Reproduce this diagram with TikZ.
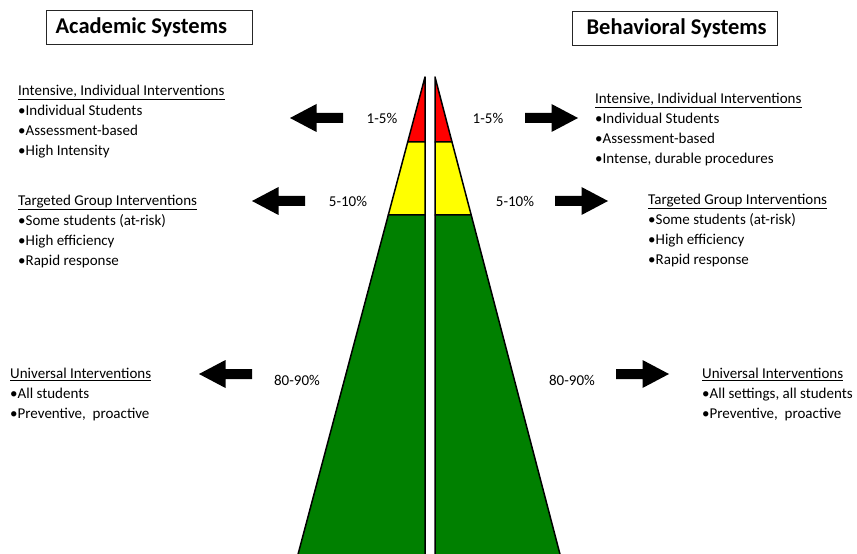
\documentclass[tikz,border=0pt]{standalone}
\usepackage{fontspec}
\setmainfont{Carlito}

\definecolor{tierred}{RGB}{255,0,0}
\definecolor{tieryellow}{RGB}{255,255,0}
\definecolor{tiergreen}{RGB}{0,128,0}

\tikzset{
  tier/.style={draw=black, line width=1.5bp, line join=round},
  titlebox/.style={draw=black!85, line width=1.2bp, anchor=north west, minimum height=34bp,
    inner ysep=0pt, inner xsep=0pt, font=\fontsize{22.5bp}{27bp}\selectfont\bfseries},
  txt/.style={anchor=north west, inner sep=0pt, align=left, font=\fontsize{15bp}{20bp}\selectfont},
  pct/.style={inner sep=0pt, font=\fontsize{15bp}{18bp}\selectfont},
  blockarrow/.pic={\fill[black] (-26.5,-5) -- (0,-5) -- (0,-14) -- (26.5,0) -- (0,14) -- (0,5) -- (-26.5,5) -- cycle;}
}

\begin{document}
\begin{tikzpicture}[x=1bp,y=-1bp]
\useasboundingbox (0,0) rectangle (857,554);
\clip (0,0) rectangle (857,554);
% 見出し
\node[titlebox] (acad) at (46,10) {\makebox[206bp][l]{\hspace*{9bp}Academic Systems}};
\node[titlebox] (behav) at (572,11) {\makebox[205bp][l]{\hspace*{14bp}Behavioral Systems}};
% ピラミッド（左）
\draw[tier, fill=tierred] (425,77) -- (425,142) -- (407.7,142) -- cycle;
\draw[tier, fill=tieryellow] (425,142) -- (425,215) -- (388.3,215) -- (407.7,142) -- cycle;
\draw[tier, fill=tiergreen] (425,215) -- (425,560) -- (296.5,560) -- (388.3,215) -- cycle;
% ピラミッド（右）
\draw[tier, fill=tierred] (435,77) -- (435,142) -- (452,142) -- cycle;
\draw[tier, fill=tieryellow] (435,142) -- (435,215) -- (471.2,215) -- (452,142) -- cycle;
\draw[tier, fill=tiergreen] (435,215) -- (435,560) -- (561.5,560) -- (471.2,215) -- cycle;
% 割合
\node[pct] (lred) at (382,118) {1-5\%};
\node[pct] (rred) at (488,118) {1-5\%};
\node[pct] (lyel) at (348,201) {5-10\%};
\node[pct] (ryel) at (515,201) {5-10\%};
\node[pct] (lgrn) at (297,380) {80-90\%};
\node[pct] (rgrn) at (572,380) {80-90\%};
% 矢印
\pic[rotate=180] at (316.5,118) {blockarrow};
\pic at (551.5,118) {blockarrow};
\pic[rotate=180] at (278.5,201) {blockarrow};
\pic at (581.5,201) {blockarrow};
\pic[rotate=180] at (225.5,374) {blockarrow};
\pic at (642.5,374) {blockarrow};
% 説明
\node[txt] (lint) at (18,85) {\underline{Intensive, Individual Interventions}\\•Individual Students\\•Assessment-based\\•High Intensity};
\node[txt] (rint) at (595,93) {\underline{Intensive, Individual Interventions}\\•Individual Students\\•Assessment-based\\•Intense, durable procedures};
\node[txt] (ltgt) at (18,195) {\underline{Targeted Group Interventions}\\•Some students (at-risk)\\•High efficiency\\•Rapid response};
\node[txt] (rtgt) at (648,194) {\underline{Targeted Group Interventions}\\•Some students (at-risk)\\•High efficiency\\•Rapid response};
\node[txt] (luni) at (10,368) {\underline{Universal Interventions}\\•All students\\•Preventive, \ proactive};
\node[txt] (runi) at (702,368) {\underline{Universal Interventions}\\•All settings, all students\\•Preventive, \ proactive};
\end{tikzpicture}
\end{document}
